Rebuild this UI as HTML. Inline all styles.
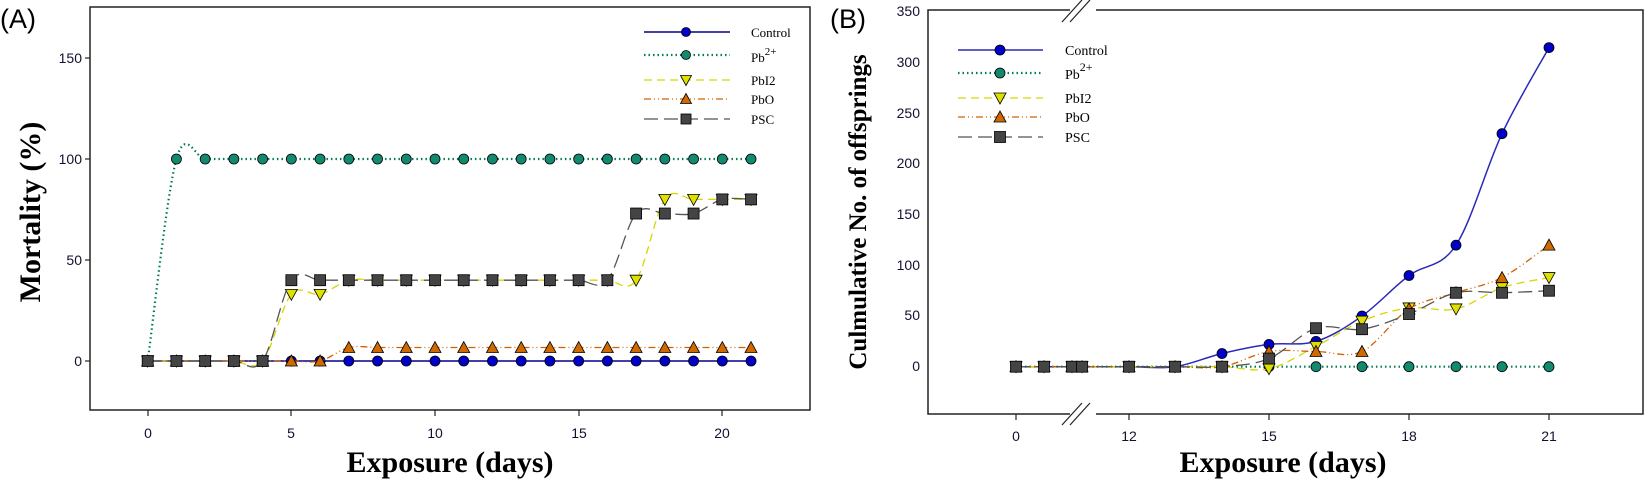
<!DOCTYPE html>
<html><head><meta charset="utf-8"><style>
html,body{margin:0;padding:0;background:#fff;}
svg{display:block}
.tk{font-family:"Liberation Sans",sans-serif;font-size:14px;fill:#111130}
.lg{font-family:"Liberation Serif",serif;font-size:14px;fill:#000}
.ax{font-family:"Liberation Serif",serif;font-weight:bold;fill:#000}
</style></head><body>
<svg id="s" width="1645" height="481" viewBox="0 0 1645 481" xmlns="http://www.w3.org/2000/svg">
<rect width="1645" height="481" fill="#fff"/>
<text x="0" y="28" font-family="Liberation Sans,sans-serif" font-size="27" fill="#000">(A)</text>
<text x="830" y="28" font-family="Liberation Sans,sans-serif" font-size="27" fill="#000">(B)</text>
<rect x="90" y="7" width="720" height="403" fill="none" stroke="#222" stroke-width="1.5"/>
<rect x="928" y="10" width="715" height="404" fill="none" stroke="#222" stroke-width="1.5"/>
<g class="tk" text-anchor="end">
<text x="82" y="63">150</text><text x="82" y="164">100</text><text x="82" y="265">50</text><text x="82" y="366">0</text>
<text x="920" y="16">350</text><text x="920" y="67">300</text><text x="920" y="118">250</text><text x="920" y="168">200</text><text x="920" y="219">150</text><text x="920" y="270">100</text><text x="920" y="320">50</text><text x="920" y="371">0</text>
</g>
<g class="tk" text-anchor="middle">
<text x="148" y="438">0</text><text x="291" y="438">5</text><text x="435" y="438">10</text><text x="579" y="438">15</text><text x="722" y="438">20</text>
<text x="1016" y="441">0</text><text x="1129" y="441">12</text><text x="1269" y="441">15</text><text x="1409" y="441">18</text><text x="1549" y="441">21</text>
</g>
<g stroke="#222" stroke-width="1.2">
<line x1="85" y1="58" x2="90" y2="58"/><line x1="85" y1="159" x2="90" y2="159"/><line x1="85" y1="260" x2="90" y2="260"/><line x1="85" y1="361" x2="90" y2="361"/>
<line x1="148" y1="410" x2="148" y2="416"/><line x1="291" y1="410" x2="291" y2="416"/><line x1="435" y1="410" x2="435" y2="416"/><line x1="579" y1="410" x2="579" y2="416"/><line x1="722" y1="410" x2="722" y2="416"/>
<line x1="1016" y1="414" x2="1016" y2="420"/><line x1="1129" y1="414" x2="1129" y2="420"/><line x1="1269" y1="414" x2="1269" y2="420"/><line x1="1409" y1="414" x2="1409" y2="420"/><line x1="1549" y1="414" x2="1549" y2="420"/>
</g>
<g stroke="#222" stroke-width="1.2">
<rect x="1070" y="0" width="26" height="22" fill="#fff" stroke="none"/>
<line x1="1062" y1="22" x2="1082" y2="0"/><line x1="1070" y1="22" x2="1090" y2="0"/>
<rect x="1070" y="404" width="26" height="20" fill="#fff" stroke="none"/>
<line x1="1062" y1="425" x2="1082" y2="403"/><line x1="1070" y1="425" x2="1090" y2="403"/>
</g>
<text class="ax" font-size="30" x="450" y="472" text-anchor="middle">Exposure (days)</text>
<text class="ax" font-size="30" x="1283" y="472" text-anchor="middle">Exposure (days)</text>
<text class="ax" font-size="30" transform="translate(40,212) rotate(-90)" text-anchor="middle">Mortality (%)</text>
<text class="ax" font-size="25" transform="translate(866,212) rotate(-90)" text-anchor="middle">Culmulative No. of offsprings</text>
<g class="lg">
<text x="751" y="37" font-size="13">Control</text>
<text x="751" y="62" font-size="13">Pb<tspan dy="-7" font-size="11">2+</tspan></text>
<text x="751" y="85" font-size="13">PbI2</text>
<text x="751" y="104" font-size="13">PbO</text>
<text x="751" y="124" font-size="13">PSC</text>
<text x="1065" y="55">Control</text>
<text x="1065" y="79">Pb<tspan dy="-8" font-size="12">2+</tspan></text>
<text x="1065" y="103">PbI2</text>
<text x="1065" y="122">PbO</text>
<text x="1065" y="142">PSC</text>
</g>
<g id="g"></g>
</svg>
<script>
var NS="http://www.w3.org/2000/svg",G=document.getElementById("g");
function el(t,a){var e=document.createElementNS(NS,t);for(var k in a)e.setAttribute(k,a[k]);G.appendChild(e);return e;}
var ST={
c:{line:"#00008b",fill:"#0000c8",dash:"",m:"o",w:1.5},
p:{line:"#007a55",fill:"#128a70",dash:"1.5,3",m:"o",w:2.2},
i:{line:"#d6d600",fill:"#e0e000",dash:"8,5",m:"v",w:1.3},
o:{line:"#d06000",fill:"#d06a00",dash:"7,3,1,3,1,3",m:"^",w:1.3},
s:{line:"#555",fill:"#444",dash:"14,6",m:"s",w:1.3}};
function path(pts){var d="M"+pts[0][0]+","+pts[0][1];for(var i=0;i<pts.length-1;i++){var p0=pts[i-1]||pts[i],p1=pts[i],p2=pts[i+1],p3=pts[i+2]||p2;var t=6;d+=" C"+(p1[0]+(p2[0]-p0[0])/t)+","+(p1[1]+(p2[1]-p0[1])/t)+" "+(p2[0]-(p3[0]-p1[0])/t)+","+(p2[1]-(p3[1]-p1[1])/t)+" "+p2[0]+","+p2[1];}return d;}
function mk(m,x,y,f,r){r=r||5;if(m=="o")el("circle",{cx:x,cy:y,r:r,fill:f,stroke:"#000","stroke-width":0.8});
else if(m=="s")el("rect",{x:x-r-0.5,y:y-r-0.5,width:2*r+1,height:2*r+1,fill:f,stroke:"#000","stroke-width":0.8});
else if(m=="v")el("polygon",{points:(x-r-1)+","+(y-r)+" "+(x+r+1)+","+(y-r)+" "+x+","+(y+r+1),fill:f,stroke:"#000","stroke-width":0.8});
else el("polygon",{points:(x-r-1)+","+(y+r)+" "+(x+r+1)+","+(y+r)+" "+x+","+(y-r-1),fill:f,stroke:"#000","stroke-width":0.8});}
function series(k,pts){var s=ST[k];el("path",{d:path(pts),fill:"none",stroke:s.line,"stroke-width":s.w,"stroke-dasharray":s.dash});pts.forEach(function(p){mk(s.m,p[0],p[1],s.fill);});}
function ax(d){return 147.7+28.73*d}function ay(v){return 361-2.02*v}
function mkA(vals){return vals.map(function(v,i){return [ax(i),ay(v)]})}
var A={
o:[0,0,0,0,0,0,0,6.67,6.67,6.67,6.67,6.67,6.67,6.67,6.67,6.67,6.67,6.67,6.67,6.67,6.67,6.67],
c:[0,0,0,0,0,0,0,0,0,0,0,0,0,0,0,0,0,0,0,0,0,0],
p:[0,100,100,100,100,100,100,100,100,100,100,100,100,100,100,100,100,100,100,100,100,100],
i:[0,0,0,0,0,33,33,40,40,40,40,40,40,40,40,40,40,40,80,80,80,80],
s:[0,0,0,0,0,40,40,40,40,40,40,40,40,40,40,40,40,73,73,73,80,80]};
["c","p","i","o","s"].forEach(function(k){series(k,mkA(A[k]))});
var bx=[1016,1044,1072,1082,1129,1175,1222,1269,1316,1362,1409,1456,1502,1549];
function by(v){return 366.7-1.013*v}
function mkB(vals){return vals.map(function(v,i){return [bx[i],by(v)]})}
var B={
p:[0,0,0,0,0,0,0,0,0,0,0,0,0,0],
i:[0,0,0,0,0,0,0,-2,20,45,58,57,78,88],
o:[0,0,0,0,0,0,0,15,15,15,57,73,88,120],
s:[0,0,0,0,0,0,0,8,38,37,52,73,73,75],
c:[0,0,0,0,0,0,13,22,25,50,90,120,230,315]};
ST.c2={line:"#2a2ab8",fill:"#0000c8",dash:"",m:"o",w:1.5};
series("c2",mkB(B.c));
["p","i","o","s"].forEach(function(k){series(k,mkB(B[k]))});
function leg(k,x1,x2,xm,y,sc){var s=ST[k];el("line",{x1:x1,y1:y,x2:x2,y2:y,stroke:s.line,"stroke-width":s.w,"stroke-dasharray":s.dash});mk(s.m,xm,y,s.fill,sc);}
var ly=[32,55,80,99,119];["c","p","i","o","s"].forEach(function(k,i){leg(k,644,730,686,ly[i],4.5)});
var ly2=[50,73,98,117,137];["c2","p","i","o","s"].forEach(function(k,i){leg(k,958,1043,1000,ly2[i],5)});
</script>
</body></html>
